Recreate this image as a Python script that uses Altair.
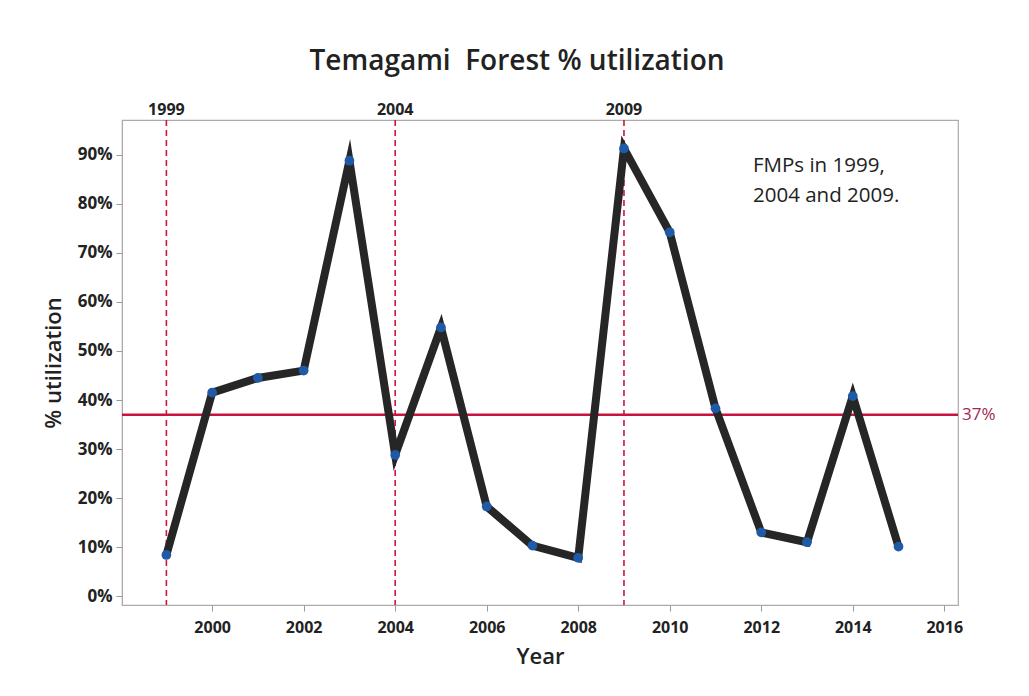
import altair as alt
import pandas as pd

years = [1999, 2000, 2001, 2002, 2003, 2004, 2005, 2006, 2007, 2008,
         2009, 2010, 2011, 2012, 2013, 2014, 2015]
util = [0.084, 0.415, 0.445, 0.46, 0.888, 0.288, 0.548, 0.183, 0.103, 0.078,
        0.913, 0.742, 0.383, 0.13, 0.11, 0.408, 0.101]
fmp_years = [1999, 2004, 2009]
ref_value = 0.37
x_ticks = [2000, 2002, 2004, 2006, 2008, 2010, 2012, 2014, 2016]
y_ticks = [0.0, 0.1, 0.2, 0.3, 0.4, 0.5, 0.6, 0.7, 0.8, 0.9]
title_text = "Temagami \u00a0Forest % utilization"
note_lines = ["FMPs in 1999,", "2004 and 2009."]

FONT = "Open Sans"
W, H = 836, 485

df = pd.DataFrame({"Year": years, "util": util})
fmp = pd.DataFrame({"Year": fmp_years, "label": [str(y) for y in fmp_years]})
ref = pd.DataFrame({"v": [ref_value], "label": ["37%"]})
note = pd.DataFrame({"Year": [2011.82], "v": [0.878], "label": [note_lines]})
title_df = pd.DataFrame({"t": [title_text]})

xscale = alt.Scale(domain=[1998.03, 2016.3], nice=False, zero=False)
yscale = alt.Scale(domain=[-0.018, 0.971], nice=False, zero=False)

xaxis = alt.Axis(values=x_ticks, format="d", title="Year", grid=False,
                 labelFont=FONT, labelFontWeight="bold", labelFontSize=16,
                 labelColor="#222", labelPadding=8, tickSize=6, tickColor="#999",
                 domainColor="#aaa", titleFont=FONT, titleFontSize=22,
                 titleFontWeight=600, titleColor="#222", titlePadding=11)
yaxis = alt.Axis(values=y_ticks, format=".0%", title="% utilization", grid=False,
                 labelFont=FONT, labelFontWeight="bold", labelFontSize=17,
                 labelColor="#222", labelPadding=4, tickSize=6, tickColor="#999",
                 domainColor="#aaa", titleFont=FONT, titleFontSize=22,
                 titleFontWeight=600, titleColor="#222", titlePadding=12)

base = alt.Chart(df)

vlines = alt.Chart(fmp).mark_rule(color="#d0143c", strokeWidth=1.6,
                                  strokeDash=[6, 4]).encode(
    x=alt.X("Year:Q", scale=xscale, axis=xaxis))

toplabels = alt.Chart(fmp).mark_text(font=FONT, fontWeight="bold", fontSize=16,
                                     color="#222", baseline="alphabetic",
                                     align="center").encode(
    x=alt.X("Year:Q", scale=xscale), y=alt.value(-5), text="label:N")

hline = alt.Chart(ref).mark_rule(color="#c8143c", strokeWidth=2.5).encode(
    y=alt.Y("v:Q", scale=yscale, axis=yaxis))

reflabel = alt.Chart(ref).mark_text(font=FONT, fontSize=17, color="#a02850",
                                    align="left", baseline="middle").encode(
    x=alt.value(W + 4), y=alt.Y("v:Q", scale=yscale), text="label:N")

line = base.mark_line(color="#262626", strokeWidth=8, strokeJoin="miter",
                      strokeMiterLimit=10).encode(
    x=alt.X("Year:Q", scale=xscale), y=alt.Y("util:Q", scale=yscale))

points = base.mark_circle(color="#1f5aa6", size=95, opacity=1).encode(
    x=alt.X("Year:Q", scale=xscale), y=alt.Y("util:Q", scale=yscale))

notes = alt.Chart(note).mark_text(font=FONT, fontSize=20.5, color="#222",
                                  align="left", baseline="middle",
                                  lineHeight=30).encode(
    x=alt.X("Year:Q", scale=xscale), y=alt.Y("v:Q", scale=yscale),
    text="label")

title = alt.Chart(title_df).mark_text(font=FONT, fontSize=28, fontWeight=600,
                                      color="#222", align="center",
                                      baseline="alphabetic").encode(
    x=alt.value(395), y=alt.value(-50), text="t:N")

chart = alt.layer(vlines, hline, line, points, toplabels, reflabel, notes, title).properties(
    width=W, height=H,
    autosize=alt.AutoSizeParams(type="none"),
    padding={"left": 114, "top": 112, "right": 63, "bottom": 83},
    background="white",
).configure_view(stroke="#aaa", strokeWidth=1.2)

chart.save("out.html", embed_options={"renderer": "svg", "actions": False})
